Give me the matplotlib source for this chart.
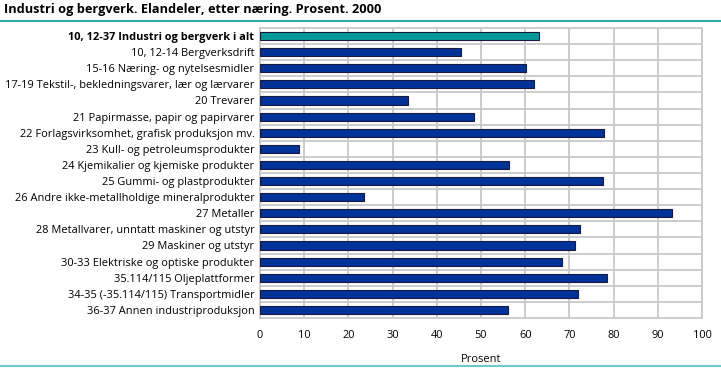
import matplotlib.pyplot as plt

naeringer = [
    "10, 12-37 Industri og bergverk i alt",
    "10, 12-14 Bergverksdrift",
    "15-16 Næring- og nytelsesmidler",
    "17-19 Tekstil-, bekledningsvarer, lær og lærvarer",
    "20 Trevarer",
    "21 Papirmasse, papir og papirvarer",
    "22 Forlagsvirksomhet, grafisk produksjon mv.",
    "23 Kull- og petroleumsprodukter",
    "24 Kjemikalier og kjemiske produkter",
    "25 Gummi- og plastprodukter",
    "26 Andre ikke-metallholdige mineralprodukter",
    "27 Metaller",
    "28 Metallvarer, unntatt maskiner og utstyr",
    "29 Maskiner og utstyr",
    "30-33 Elektriske og optiske produkter",
    "35.114/115 Oljeplattformer",
    "34-35 (-35.114/115) Transportmidler",
    "36-37 Annen industriproduksjon",
]
prosent = [63.2, 45.5, 60.1, 62.0, 33.5, 48.4, 77.9, 8.8, 56.4,
           77.5, 23.5, 93.2, 72.5, 71.3, 68.4, 78.5, 72.0, 56.2]

plt.rcParams['font.family'] = ['Open Sans', 'DejaVu Sans']

fig = plt.figure(figsize=(7.21, 3.69), dpi=100)
ax = fig.add_axes([260 / 721, 1 - 318 / 369, 442 / 721, 290 / 369])

pos = list(range(len(naeringer)))
farger = ['#009999'] + ['#003399'] * (len(naeringer) - 1)
ax.barh(pos, prosent, height=0.5, color=farger, edgecolor='#1a1a40',
        linewidth=0.8, zorder=3)

ax.set_xlim(0, 100)
ax.set_ylim(len(naeringer) - 0.5, -0.5)
ax.set_xticks(range(0, 101, 10))
ax.set_yticks(pos)
ax.set_yticklabels(naeringer)
ax.get_yticklabels()[0].set_fontweight('bold')
ax.tick_params(axis='both', length=0, labelsize=7.9, colors='black')
ax.tick_params(axis='x', pad=9)
ax.tick_params(axis='y', pad=4)

# rutenett mellom kategoriene
for y in [p + 0.5 for p in pos[:-1]]:
    ax.axhline(y, color='#c8c8c8', linewidth=1.3, zorder=1)
ax.grid(axis='x', color='#c8c8c8', linewidth=1.3, zorder=1)
for s in ax.spines.values():
    s.set_color('#c8c8c8')
    s.set_linewidth(1.3)

ax.set_xlabel('Prosent', fontsize=7.9, labelpad=9)

fig.text(4 / 721, 1 - 10 / 369, 'Industri og bergverk. Elandeler, etter næring. Prosent. 2000',
         fontsize=9.2, fontweight='bold', va='center', ha='left')
fig.add_artist(plt.Line2D([0, 1], [1 - 21 / 369] * 2, color='#009999', linewidth=1.2))
fig.add_artist(plt.Line2D([0, 1], [1 - 366 / 369] * 2, color='#66cccc', linewidth=1.5))

fig.savefig('out.png', dpi=100)
